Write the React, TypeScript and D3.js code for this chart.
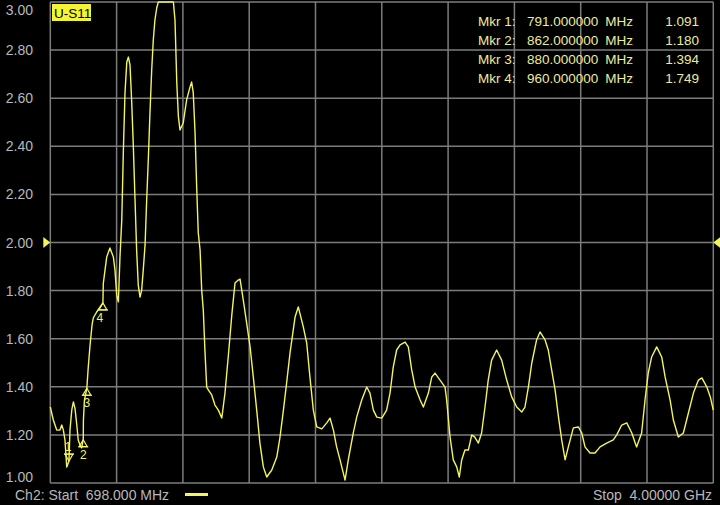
import React from 'react';
import * as d3 from 'd3';

// Sweep: 698 MHz .. 4 GHz, SWR trace
const freqMHz = [
  698, 713, 730, 746, 755, 763, 771, 780, 791, 796, 805, 813, 821, 830, 837, 846, 854, 862, 863, 868,
  880, 886, 896, 906, 912, 929, 960, 962, 979, 995, 1012, 1020, 1029, 1037, 1045, 1054, 1062, 1070, 1079, 1087,
  1095, 1103, 1111, 1120, 1128, 1136, 1145, 1153, 1161, 1170, 1178, 1186, 1194, 1203, 1211, 1219, 1228, 1236, 1269, 1311,
  1319, 1328, 1336, 1344, 1360, 1377, 1394, 1402, 1410, 1419, 1427, 1435, 1444, 1452, 1460, 1468, 1477, 1485, 1502, 1518,
  1535, 1552, 1568, 1585, 1602, 1618, 1634, 1643, 1659, 1676, 1693, 1709, 1726, 1742, 1759, 1776, 1801, 1826, 1842, 1859,
  1875, 1892, 1917, 1933, 1958, 1975, 1991, 2008, 2025, 2050, 2075, 2091, 2108, 2124, 2141, 2166, 2182, 2207, 2224, 2249,
  2274, 2290, 2307, 2324, 2349, 2373, 2390, 2406, 2423, 2440, 2465, 2481, 2498, 2515, 2540, 2556, 2581, 2598, 2614, 2639,
  2664, 2672, 2689, 2705, 2722, 2735, 2747, 2763, 2780, 2797, 2812, 2830, 2846, 2863, 2879, 2896, 2921, 2946, 2971, 2996,
  3021, 3046, 3062, 3079, 3096, 3120, 3137, 3162, 3178, 3195, 3212, 3229, 3245, 3262, 3278, 3303, 3328, 3345, 3361, 3386,
  3411, 3436, 3469, 3502, 3519, 3544, 3569, 3594, 3618, 3643, 3660, 3676, 3693, 3718, 3743, 3760, 3785, 3801, 3826, 3851,
  3876, 3901, 3926, 3943, 3968, 3985, 4000,
];
const swr = [
  1.316, 1.262, 1.22, 1.22, 1.241, 1.22, 1.179, 1.066, 1.091, 1.22, 1.304, 1.337, 1.31, 1.241, 1.179, 1.158, 1.146, 1.18, 1.262, 1.345,
  1.394, 1.47, 1.574, 1.657, 1.686, 1.711, 1.749, 1.83, 1.94, 1.977, 1.94, 1.886, 1.78, 1.753, 1.94, 2.094, 2.385, 2.622, 2.75, 2.771,
  2.738, 2.593, 2.414, 2.177, 1.969, 1.823, 1.773, 1.802, 1.886, 1.99, 2.177, 2.343, 2.53, 2.717, 2.842, 2.925, 2.975, 3.0, 3.0, 3.0,
  2.925, 2.663, 2.522, 2.468, 2.497, 2.593, 2.647, 2.667, 2.622, 2.455, 2.231, 2.04, 1.969, 1.802, 1.719, 1.553, 1.399, 1.387, 1.366, 1.324,
  1.303, 1.27, 1.374, 1.532, 1.699, 1.832, 1.844, 1.848, 1.761, 1.665, 1.566, 1.441, 1.303, 1.166, 1.067, 1.025, 1.054, 1.108, 1.191, 1.303,
  1.416, 1.541, 1.69, 1.732, 1.649, 1.582, 1.441, 1.303, 1.233, 1.225, 1.25, 1.27, 1.22, 1.15, 1.096, 1.012, 1.096, 1.208, 1.274, 1.345,
  1.399, 1.374, 1.303, 1.274, 1.27, 1.303, 1.374, 1.482, 1.553, 1.574, 1.586, 1.566, 1.47, 1.399, 1.345, 1.316, 1.374, 1.441, 1.457, 1.428,
  1.399, 1.345, 1.191, 1.096, 1.067, 1.025, 1.096, 1.137, 1.137, 1.2, 1.191, 1.166, 1.208, 1.316, 1.428, 1.511, 1.553, 1.511, 1.428, 1.358,
  1.316, 1.295, 1.316, 1.399, 1.499, 1.595, 1.628, 1.595, 1.553, 1.47, 1.387, 1.274, 1.179, 1.096, 1.15, 1.229, 1.233, 1.208, 1.15, 1.125,
  1.125, 1.15, 1.166, 1.179, 1.2, 1.241, 1.25, 1.208, 1.15, 1.208, 1.345, 1.457, 1.524, 1.566, 1.524, 1.441, 1.345, 1.262, 1.191, 1.208,
  1.291, 1.374, 1.428, 1.437, 1.399, 1.358, 1.303,
];

const yTickLabels = ['1.00', '1.20', '1.40', '1.60', '1.80', '2.00', '2.20', '2.40', '2.60', '2.80', '3.00'];

const markerIds = [1, 2, 3, 4];
const markerFreqs = [791, 862, 880, 960];
const markerValues = [1.091, 1.18, 1.394, 1.749];

const W = 720;
const H = 505;
const FONT = '"Liberation Sans", Arial, sans-serif';
const GRID = '#7c7c7c';
const LABEL = '#b8b8b8';
const TRACE = '#f4f45c';
const MKR_TEXT = '#ecec9c';

export default function App() {
  const x = d3.scaleLinear().domain([698, 4000]).range([50.3, 713.3]);
  const y = d3.scaleLinear().domain([1, 3]).range([483, 2]).clamp(true);

  // 10 horizontal divisions across the sweep
  const xGrid = d3.range(0, 11).map(i => 698 + (i * (4000 - 698)) / 10);
  const yGrid = yTickLabels.map(Number);

  const points = freqMHz.map((f, i) => [f, swr[i]] as [number, number]);
  const line = d3.line<[number, number]>()
    .x(d => x(d[0]))
    .y(d => y(d[1]));

  return (
    <svg
      width={W}
      height={H}
      style={{ position: 'fixed', left: 0, top: 0, background: '#000', display: 'block' }}
      fontFamily={FONT}
    >
      <rect x={0} y={0} width={W} height={H} fill="#000" />

      {/* grid */}
      {xGrid.map((f, i) => (
        <line key={'xg' + i} x1={x(f)} x2={x(f)} y1={y(3)} y2={y(1)} stroke={GRID} strokeWidth={1.5} />
      ))}
      {yGrid.map((v, i) => (
        <line key={'yg' + i} x1={x(698)} x2={x(4000)} y1={y(v)} y2={y(v)} stroke={GRID} strokeWidth={1.5} />
      ))}

      {/* y labels */}
      {yTickLabels.map((t, i) => {
        const v = yGrid[i];
        let ty = y(v) + 5;
        if (i === 0) ty = y(v) - 1;
        if (i === yTickLabels.length - 1) ty = y(v) + 13;
        return (
          <text key={'yl' + i} x={33} y={ty} textAnchor="end" fontSize={14} fill={LABEL}>
            {t}
          </text>
        );
      })}

      {/* reference level arrows */}
      <path d={`M${x(698) - 7},${y(2) - 5.5} L${x(698)},${y(2)} L${x(698) - 7},${y(2) + 5.5} Z`} fill={TRACE} />
      <path d={`M${x(4000) + 7},${y(2) - 5.5} L${x(4000)},${y(2)} L${x(4000) + 7},${y(2) + 5.5} Z`} fill={TRACE} />

      {/* trace */}
      <path d={line(points) || ''} fill="none" stroke={TRACE} strokeWidth={1.4} strokeLinejoin="round" />

      {/* markers */}
      {markerIds.map((id, i) => {
        const px = x(markerFreqs[i]);
        const py = y(markerValues[i]);
        if (id === 1) {
          return (
            <g key={'m' + id} stroke={TRACE} fill="none" strokeWidth={1.2}>
              <path d={`M${px - 4},${py - 7} L${px + 4},${py - 7} L${px},${py} Z`} />
              <line x1={px - 5} x2={px + 5} y1={py - 7} y2={py - 7} />
              <text x={px - 1} y={py - 10} textAnchor="middle" fontSize={12} fill={TRACE} stroke="none">
                {id}
              </text>
            </g>
          );
        }
        const dx = id === 4 ? -3 : 0;
        return (
          <g key={'m' + id} stroke={TRACE} fill="none" strokeWidth={1.2}>
            <path d={`M${px},${py} L${px + 4},${py + 7} L${px - 4},${py + 7} Z`} />
            <line x1={px - 5} x2={px + 5} y1={py + 7} y2={py + 7} />
            <text x={px + dx} y={py + 19} textAnchor="middle" fontSize={12} fill={TRACE} stroke="none">
              {id}
            </text>
          </g>
        );
      })}

      {/* trace label */}
      <rect x={52} y={4} width={39} height={17} fill="#f4f430" />
      <text x={54} y={17.5} fontSize={13.5} fill="#000">U-S11</text>

      {/* marker readout */}
      {markerIds.map((id, i) => {
        const ty = 26 + i * 19;
        return (
          <g key={'r' + id} fontSize={13.5} fill={MKR_TEXT}>
            <text x={478} y={ty}>{`Mkr ${id}:`}</text>
            <text x={527} y={ty}>{markerFreqs[i].toFixed(6)}</text>
            <text x={633} y={ty} textAnchor="end">MHz</text>
            <text x={699} y={ty} textAnchor="end">{markerValues[i].toFixed(3)}</text>
          </g>
        );
      })}

      {/* footer */}
      <text x={15} y={500} fontSize={14} fill={LABEL} style={{ whiteSpace: 'pre' }}>
        {'Ch2: Start  ' + (698).toFixed(3) + ' MHz'}
      </text>
      <rect x={185} y={493} width={23} height={3} fill={TRACE} />
      <text x={712} y={500} fontSize={14} fill={LABEL} textAnchor="end" style={{ whiteSpace: 'pre' }}>
        {'Stop  ' + (4).toFixed(5) + ' GHz'}
      </text>
    </svg>
  );
}
